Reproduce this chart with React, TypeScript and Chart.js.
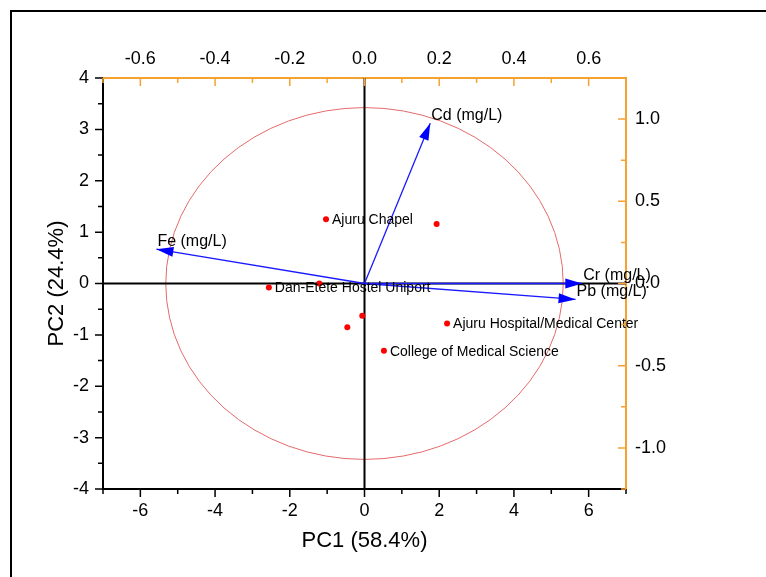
import React, { useEffect, useRef } from 'react';
import { Chart, registerables } from 'chart.js';
Chart.register(...registerables);

// Sample scores (PC1, PC2)
const sampleNames = ['Ajuru Chapel', '', 'Dan-Etete Hostel Uniport', '', '', '', 'Ajuru Hospital/Medical Center', 'College of Medical Science'];
const pc1Scores = [-1.03, 1.93, -2.56, -1.21, -0.06, -0.46, 2.21, 0.52];
const pc2Scores = [1.25, 1.16, -0.08, 0.0, -0.63, -0.85, -0.78, -1.31];

// Variable loadings (top / right axes)
const variableNames = ['Fe (mg/L)', 'Cd (mg/L)', 'Cr (mg/L)', 'Pb (mg/L)'];
const pc1Loadings = [-0.557, 0.176, 0.583, 0.565];
const pc2Loadings = [0.209, 0.975, 0.0, -0.097];

// Reference ellipse (loading units)
const circleRadiusX = 0.532;
const circleRadiusY = 1.07;

// Axis ticks
const pc1Ticks = [-6, -4, -2, 0, 2, 4, 6];
const pc1Minor = [-7, -5, -3, -1, 1, 3, 5, 7];
const pc2Ticks = [-4, -3, -2, -1, 0, 1, 2, 3, 4];
const pc2Minor = [-3.5, -2.5, -1.5, -0.5, 0.5, 1.5, 2.5, 3.5];
const loadXTicks = [-0.6, -0.4, -0.2, 0, 0.2, 0.4, 0.6];
const loadXMinor = [-0.7, -0.5, -0.3, -0.1, 0.1, 0.3, 0.5, 0.7];
const loadYTicks = [-1, -0.5, 0, 0.5, 1];
const loadYMinor = [-1.25, -0.75, -0.25, 0.25, 0.75, 1.25];

const FONT = "'Liberation Sans', Arial, sans-serif";
const ORANGE = '#f5a231';
const BLUE = '#1a1aff';

const biplotPlugin = {
  id: 'biplot',
  beforeDatasetsDraw(chart: any) {
    const { ctx, chartArea, scales } = chart;
    const { x, y, x2, y2 } = scales;
    ctx.save();
    const cx = x2.getPixelForValue(0);
    const cy = y2.getPixelForValue(0);
    const rx = Math.abs(x2.getPixelForValue(circleRadiusX) - cx);
    const ry = Math.abs(y2.getPixelForValue(circleRadiusY) - cy);
    ctx.strokeStyle = '#e46a6a';
    ctx.lineWidth = 1;
    ctx.beginPath();
    ctx.ellipse(cx, cy, rx, ry, 0, 0, Math.PI * 2);
    ctx.stroke();
    ctx.strokeStyle = '#000';
    ctx.lineWidth = 2;
    ctx.beginPath();
    const zx = x.getPixelForValue(0);
    const zy = y.getPixelForValue(0);
    ctx.moveTo(zx, chartArea.top);
    ctx.lineTo(zx, chartArea.bottom);
    ctx.moveTo(chartArea.left, zy);
    ctx.lineTo(chartArea.right, zy);
    ctx.stroke();
    ctx.restore();
  },
  afterDatasetsDraw(chart: any) {
    const { ctx, scales } = chart;
    const { x, y, x2, y2 } = scales;
    ctx.save();
    const ox = x2.getPixelForValue(0);
    const oy = y2.getPixelForValue(0);
    for (let i = 0; i < variableNames.length; i++) {
      const tx = x2.getPixelForValue(pc1Loadings[i]);
      const ty = y2.getPixelForValue(pc2Loadings[i]);
      const ang = Math.atan2(ty - oy, tx - ox);
      const len = 17;
      const hw = 5;
      const bx = tx - len * Math.cos(ang);
      const by = ty - len * Math.sin(ang);
      ctx.fillStyle = '#0000ff';
      ctx.beginPath();
      ctx.moveTo(tx, ty);
      ctx.lineTo(bx + hw * Math.sin(ang), by - hw * Math.cos(ang));
      ctx.lineTo(bx - hw * Math.sin(ang), by + hw * Math.cos(ang));
      ctx.closePath();
      ctx.fill();
      ctx.fillStyle = '#000';
      ctx.font = `16px ${FONT}`;
      ctx.textAlign = 'left';
      ctx.textBaseline = 'middle';
      ctx.fillText(variableNames[i], tx + 1, ty - 8);
    }
    ctx.font = `14px ${FONT}`;
    ctx.fillStyle = '#000';
    ctx.textAlign = 'left';
    ctx.textBaseline = 'middle';
    for (let i = 0; i < sampleNames.length; i++) {
      if (!sampleNames[i]) continue;
      const px = x.getPixelForValue(pc1Scores[i]);
      const py = y.getPixelForValue(pc2Scores[i]);
      ctx.fillText(sampleNames[i], px + 6, py + 1);
    }
    ctx.restore();
  },
  afterDraw(chart: any) {
    const { ctx, chartArea, scales } = chart;
    const { x, y, x2, y2 } = scales;
    const { left, right, top, bottom } = chartArea;
    ctx.save();
    ctx.lineWidth = 1.5;
    const MAJ = 8, MIN = 5;
    ctx.strokeStyle = '#000';
    ctx.beginPath();
    pc1Ticks.forEach(v => { const p = x.getPixelForValue(v); ctx.moveTo(p, bottom); ctx.lineTo(p, bottom + MAJ); });
    pc1Minor.forEach(v => { const p = x.getPixelForValue(v); ctx.moveTo(p, bottom); ctx.lineTo(p, bottom + MIN); });
    pc2Ticks.forEach(v => { const p = y.getPixelForValue(v); ctx.moveTo(left, p); ctx.lineTo(left - MAJ, p); });
    pc2Minor.forEach(v => { const p = y.getPixelForValue(v); ctx.moveTo(left, p); ctx.lineTo(left - MIN, p); });
    ctx.stroke();
    ctx.strokeStyle = ORANGE;
    ctx.beginPath();
    loadXTicks.forEach(v => { const p = x2.getPixelForValue(v); ctx.moveTo(p, top); ctx.lineTo(p, top + MAJ); });
    loadXMinor.forEach(v => { const p = x2.getPixelForValue(v); ctx.moveTo(p, top); ctx.lineTo(p, top + MIN); });
    loadYTicks.forEach(v => { const p = y2.getPixelForValue(v); ctx.moveTo(right, p); ctx.lineTo(right - MAJ, p); });
    loadYMinor.forEach(v => { const p = y2.getPixelForValue(v); ctx.moveTo(right, p); ctx.lineTo(right - MIN, p); });
    ctx.stroke();
    ctx.strokeStyle = '#000';
    ctx.lineWidth = 2;
    ctx.strokeRect(11, 11, 800, 600);
    ctx.restore();
  },
};

export default function App() {
  const canvasRef = useRef<HTMLCanvasElement | null>(null);

  useEffect(() => {
    if (!canvasRef.current) return;
    const tickFont = { family: FONT, size: 18 };
    const titleFont = { family: FONT, size: 22 };
    const chart = new Chart(canvasRef.current, {
      type: 'scatter',
      data: {
        datasets: [
          ...variableNames.map((name, i) => ({
            label: name,
            data: [{ x: 0, y: 0 }, { x: pc1Loadings[i], y: pc2Loadings[i] }],
            showLine: true,
            borderColor: BLUE,
            borderWidth: 1.3,
            pointRadius: 0,
            xAxisID: 'x2',
            yAxisID: 'y2',
          })),
          {
            label: 'Samples',
            data: pc1Scores.map((v, i) => ({ x: v, y: pc2Scores[i] })),
            pointRadius: 3,
            pointBackgroundColor: '#ff0000',
            pointBorderWidth: 0,
            borderColor: '#ff0000',
            backgroundColor: '#ff0000',
            xAxisID: 'x',
            yAxisID: 'y',
          },
        ],
      },
      options: {
        animation: false,
        responsive: false,
        devicePixelRatio: 1,
        layout: { padding: 0 },
        plugins: { legend: { display: false }, tooltip: { enabled: false } },
        scales: {
          x: {
            type: 'linear',
            position: 'bottom',
            min: -7,
            max: 7,
            afterBuildTicks: (s: any) => { s.ticks = pc1Ticks.map(v => ({ value: v })); },
            afterFit: (s: any) => { s.height = 88; },
            grid: { display: false, drawTicks: false },
            border: { display: true, color: '#000', width: 2 },
            ticks: { font: tickFont, color: '#000', padding: 11, autoSkip: false, maxRotation: 0, callback: (v: any) => String(v) },
            title: { display: true, text: 'PC1 (58.4%)', font: titleFont, color: '#000', padding: { top: 0, bottom: 23 } },
          },
          y: {
            type: 'linear',
            position: 'left',
            min: -4,
            max: 4,
            afterBuildTicks: (s: any) => { s.ticks = pc2Ticks.map(v => ({ value: v })); },
            afterFit: (s: any) => { s.width = 103; },
            grid: { display: false, drawTicks: false },
            border: { display: true, color: '#000', width: 2 },
            ticks: { font: tickFont, color: '#000', padding: 14, autoSkip: false, callback: (v: any) => String(v) },
            title: { display: true, text: 'PC2 (24.4%)', font: titleFont, color: '#000', padding: { top: 44, bottom: 0 } },
          },
          x2: {
            type: 'linear',
            position: 'top',
            min: -0.7,
            max: 0.7,
            afterBuildTicks: (s: any) => { s.ticks = loadXTicks.map(v => ({ value: v })); },
            afterFit: (s: any) => { s.height = 78; },
            grid: { display: false, drawTicks: false },
            border: { display: true, color: ORANGE, width: 2 },
            ticks: { font: tickFont, color: '#000', padding: 8, autoSkip: false, maxRotation: 0, callback: (v: any) => Number(v).toFixed(1) },
          },
          y2: {
            type: 'linear',
            position: 'right',
            min: -1.25,
            max: 1.25,
            afterBuildTicks: (s: any) => { s.ticks = loadYTicks.map(v => ({ value: v })); },
            afterFit: (s: any) => { s.width = 140; },
            grid: { display: false, drawTicks: false },
            border: { display: true, color: ORANGE, width: 2 },
            ticks: { font: tickFont, color: '#000', padding: 9, autoSkip: false, callback: (v: any) => Number(v).toFixed(1) },
          },
        },
      },
      plugins: [biplotPlugin],
    } as any);
    return () => chart.destroy();
  }, []);

  return (
    <div style={{ position: 'absolute', left: 0, top: 0, width: 766, height: 577, background: '#fff' }}>
      <canvas ref={canvasRef} width={766} height={577} style={{ display: 'block', width: 766, height: 577 }} />
    </div>
  );
}
